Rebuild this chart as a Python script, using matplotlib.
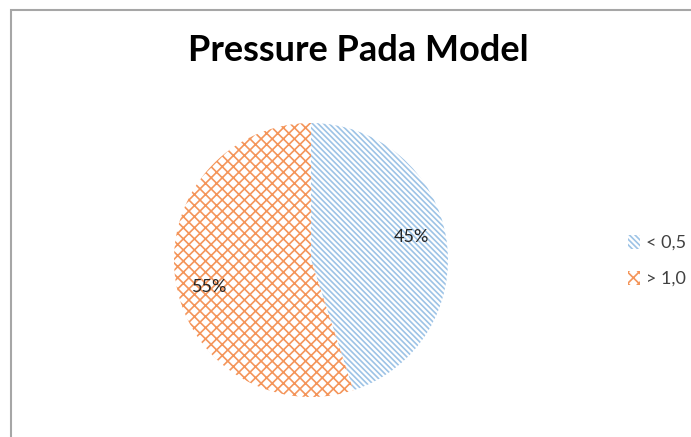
import matplotlib.pyplot as plt
from matplotlib.patches import Rectangle, Patch

labels = ["< 0,5", "> 1,0"]
shares = [45, 55]
colors = ["#9dc3e6", "#f4955a"]
hatches = ["\\\\\\\\\\\\", "xxx"]

plt.rcParams['font.family'] = ['Lato', 'DejaVu Sans']
plt.rcParams['hatch.linewidth'] = 1.2

fig = plt.figure(figsize=(6.91, 4.37), dpi=100)
fig.patch.set_facecolor("white")

# chart border (only left and top edges visible)
fig.add_artist(Rectangle((11 / 691, -0.1), 1.2, 1 - 10 / 437 + 0.1,
                         transform=fig.transFigure, fill=False,
                         edgecolor="#a6a6a6", linewidth=1.5))

ax = fig.add_axes([0.2518, 0.0915, 0.3965, 0.627])
wedges, texts, autotexts = ax.pie(
    shares, startangle=90, counterclock=False, colors=["white", "white"],
    autopct='%d%%', pctdistance=0.74,
    wedgeprops=dict(linewidth=0),
    textprops=dict(fontsize=13, color="#262626"))
for w, c, h in zip(wedges, colors, hatches):
    w.set_edgecolor(c)
    w.set_hatch(h)
    w.set_linewidth(0)
# nudge the percentage labels like the original
autotexts[0].set_position((0.73, 0.17))
autotexts[1].set_position((-0.74, -0.20))
ax.set_xlim(-1, 1)
ax.set_ylim(-1, 1)
ax.axis('off')

fig.text(0.518, 0.885, "Pressure Pada Model", ha="center", va="center",
         fontsize=26, fontweight="bold", color="black")

handles = [Patch(facecolor="white", edgecolor=c, hatch=h, linewidth=0)
           for c, h in zip(colors, hatches)]
leg = fig.legend(handles, labels, loc="center left",
                 bbox_to_anchor=(0.885, 0.403), frameon=False,
                 fontsize=13, handlelength=0.7, handleheight=0.8,
                 handletextpad=0.3, labelspacing=1.1)
for t in leg.get_texts():
    t.set_color("#404040")

fig.savefig("out.png", dpi=100, facecolor="white")
